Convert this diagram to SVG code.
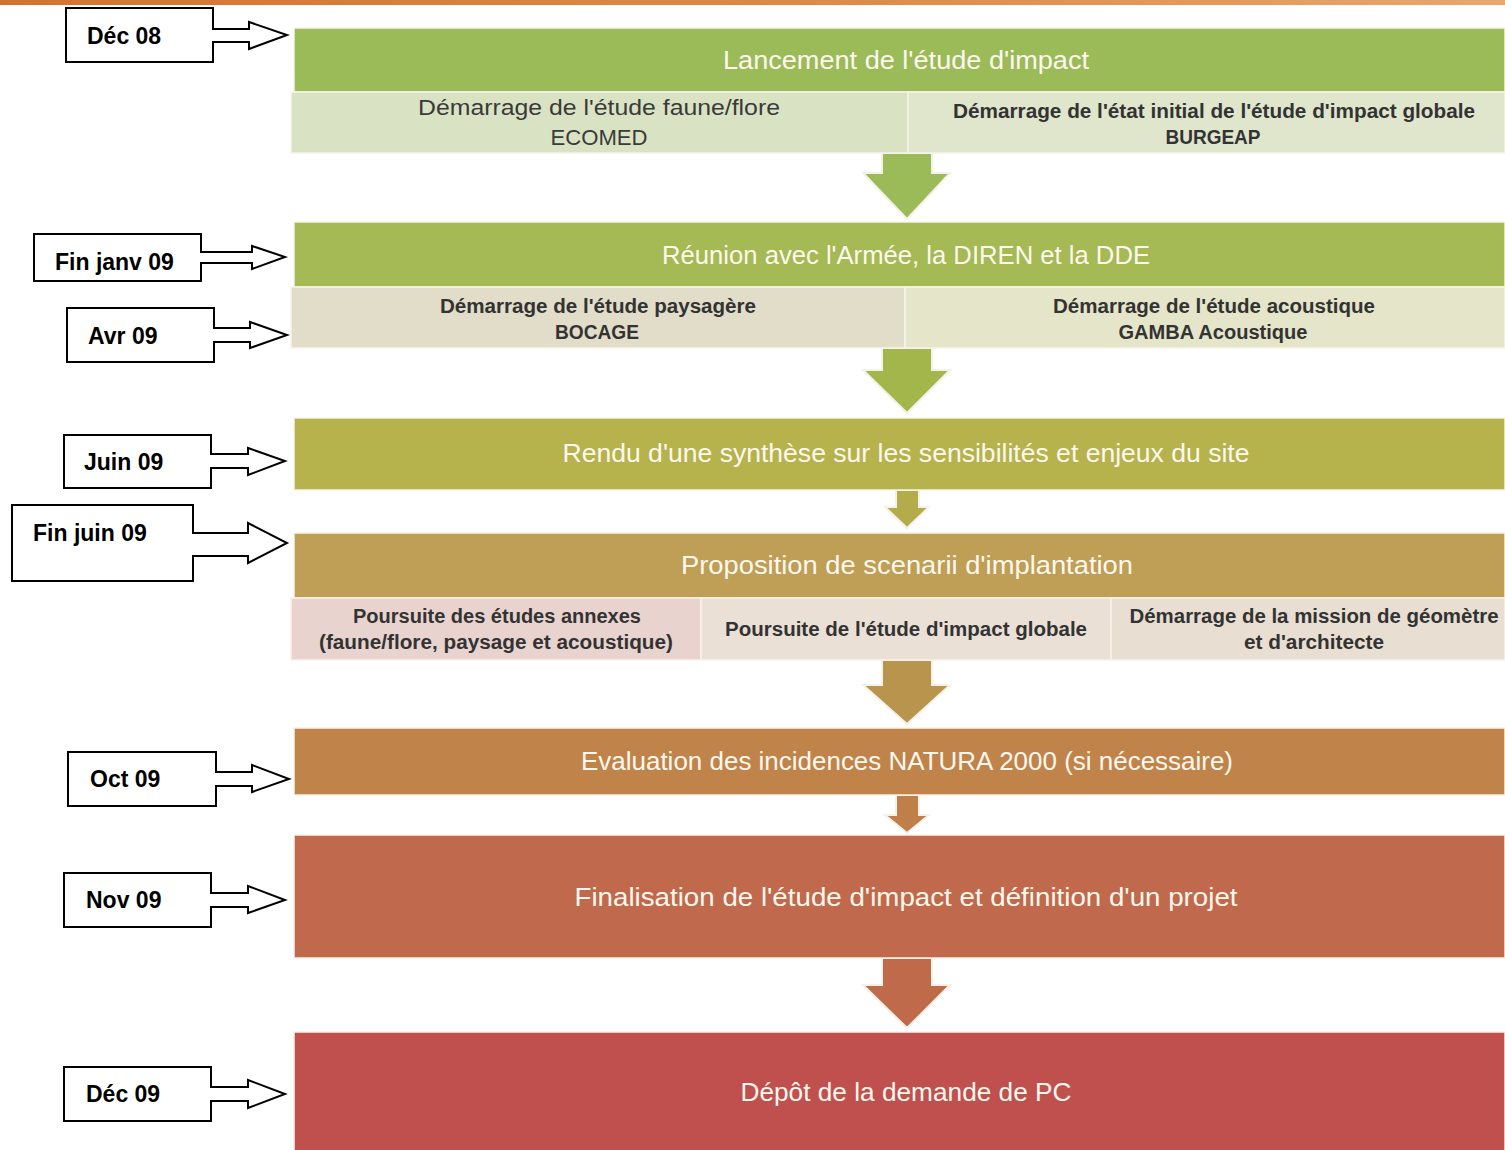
<svg xmlns="http://www.w3.org/2000/svg" width="1505" height="1150" viewBox="0 0 1505 1150">
<defs>
<linearGradient id="topstrip" x1="0" y1="0" x2="1" y2="0">
<stop offset="0" stop-color="#d4732f"/>
<stop offset="0.6" stop-color="#e08c4a"/>
<stop offset="1" stop-color="#eaa66c"/>
</linearGradient>
<style>
.lbl{font-family:"Liberation Sans",Arial,sans-serif;font-weight:bold;font-size:23px;fill:#000}
.call{fill:#fff;stroke:#000;stroke-width:2}
.bt{font-family:"Liberation Sans",Arial,sans-serif;font-size:25px;fill:#fdf8ee;text-anchor:middle}
.st{font-family:"Liberation Sans",Arial,sans-serif;font-size:22px;fill:#3a3a3a;text-anchor:middle}
.stb{font-family:"Liberation Sans",Arial,sans-serif;font-size:20px;font-weight:bold;fill:#333;text-anchor:middle}
.edge{stroke:#f6f3ea;stroke-width:1.5}
.arr{stroke:#f4f1e6;stroke-width:2}
</style>
</defs>
<rect x="0" y="0" width="1505" height="5" fill="url(#topstrip)"/>

<g id="connectors">
<path class="arr" fill="#9bbb59" d="M882 153 H932 V173 H950 L907 219 L863 173 H882 Z"/>
<path class="arr" fill="#a3b64c" d="M882 348 H932 V370 H950 L907 413 L863 370 H882 Z"/>
<path class="arr" fill="#b4ab4b" d="M896 490 H919 V507 H929 L907 528 L885 507 H896 Z"/>
<path class="arr" fill="#b8944c" d="M882 660 H932 V685 H950 L907 724 L863 685 H882 Z"/>
<path class="arr" fill="#c07e49" d="M896 795 H919 V815 H929 L907 833 L885 815 H896 Z"/>
<path class="arr" fill="#bf6a4b" d="M882 958 H932 V985 H950 L907 1028 L863 985 H882 Z"/>
</g>

<g id="step1">
<rect class="edge" x="294" y="28" width="1211" height="64" fill="#9bbb59"/>
<text class="bt" x="906" y="69" textLength="366" lengthAdjust="spacingAndGlyphs">Lancement de l'étude d'impact</text>
<rect class="edge" x="291" y="92" width="617" height="61" fill="#d9e3c3"/>
<rect class="edge" x="908" y="92" width="597" height="61" fill="#dfe6cc"/>
<text class="st" x="599" y="115" textLength="362" lengthAdjust="spacingAndGlyphs">Démarrage de l'étude faune/flore</text>
<text class="st" x="599" y="145" textLength="97" lengthAdjust="spacingAndGlyphs">ECOMED</text>
<text class="stb" x="1214" y="118" textLength="522" lengthAdjust="spacingAndGlyphs">Démarrage de l'état initial  de l'étude d'impact globale</text>
<text class="stb" x="1213" y="144" textLength="95" lengthAdjust="spacingAndGlyphs">BURGEAP</text>
</g>

<g id="step2">
<rect class="edge" x="294" y="222" width="1211" height="65" fill="#a5b954"/>
<text class="bt" x="906" y="264" textLength="488" lengthAdjust="spacingAndGlyphs">Réunion avec l'Armée,  la DIREN et la DDE</text>
<rect class="edge" x="291" y="287" width="614" height="61" fill="#e1ddc9"/>
<rect class="edge" x="905" y="287" width="600" height="61" fill="#e4e5c9"/>
<text class="stb" x="598" y="313" textLength="316" lengthAdjust="spacingAndGlyphs">Démarrage de l'étude paysagère</text>
<text class="stb" x="597" y="339" textLength="84" lengthAdjust="spacingAndGlyphs">BOCAGE</text>
<text class="stb" x="1214" y="313" textLength="322" lengthAdjust="spacingAndGlyphs">Démarrage de l'étude acoustique</text>
<text class="stb" x="1213" y="339" textLength="189" lengthAdjust="spacingAndGlyphs">GAMBA Acoustique</text>
</g>

<g id="step3">
<rect class="edge" x="294" y="418" width="1211" height="72" fill="#b6b24c"/>
<text class="bt" x="906" y="462" textLength="687" lengthAdjust="spacingAndGlyphs">Rendu d'une synthèse sur les sensibilités et enjeux du site</text>
</g>

<g id="step4">
<rect class="edge" x="294" y="533" width="1211" height="65" fill="#bf9e55"/>
<text class="bt" x="907" y="574" textLength="452" lengthAdjust="spacingAndGlyphs">Proposition de scenarii d'implantation</text>
<rect class="edge" x="291" y="598" width="410" height="62" fill="#e9d3ce"/>
<rect class="edge" x="701" y="598" width="410" height="62" fill="#eae0d6"/>
<rect class="edge" x="1111" y="598" width="394" height="62" fill="#e8dfd2"/>
<text class="stb" x="497" y="623" textLength="288" lengthAdjust="spacingAndGlyphs">Poursuite des études annexes</text>
<text class="stb" x="496" y="649" textLength="354" lengthAdjust="spacingAndGlyphs">(faune/flore, paysage et acoustique)</text>
<text class="stb" x="906" y="636" textLength="362" lengthAdjust="spacingAndGlyphs">Poursuite de l'étude d'impact globale</text>
<text class="stb" x="1314" y="623" textLength="369" lengthAdjust="spacingAndGlyphs">Démarrage de la mission de géomètre</text>
<text class="stb" x="1314" y="649" textLength="140" lengthAdjust="spacingAndGlyphs">et d'architecte</text>
</g>

<g id="step5">
<rect class="edge" x="294" y="728" width="1211" height="67" fill="#c0834a"/>
<text class="bt" x="907" y="770" textLength="652" lengthAdjust="spacingAndGlyphs">Evaluation des incidences NATURA 2000 (si nécessaire)</text>
</g>

<g id="step6">
<rect class="edge" x="294" y="835" width="1211" height="123" fill="#c0694c"/>
<text class="bt" x="906" y="906" textLength="663" lengthAdjust="spacingAndGlyphs">Finalisation de l'étude d'impact et définition d'un projet</text>
</g>

<g id="step7">
<rect class="edge" x="294" y="1032" width="1211" height="120" fill="#c0504d"/>
<text class="bt" x="906" y="1101" textLength="331" lengthAdjust="spacingAndGlyphs">Dépôt de la demande de PC</text>
</g>

<g id="date-dec08">
<path class="call" d="M66 8 H213 V29 H249 V22 L287 35 L249 49 V42 H213 V62 H66 Z"/>
<text class="lbl" x="87" y="44">Déc 08</text>
</g>
<g id="date-finjanv09">
<path class="call" d="M34 234 H201 V252 H252 V246 L285 257 L252 269 V263 H201 V281 H34 Z"/>
<text class="lbl" x="55" y="270">Fin janv 09</text>
</g>
<g id="date-avr09">
<path class="call" d="M67 308 H214 V328 H250 V322 L287 335 L250 348 V342 H214 V362 H67 Z"/>
<text class="lbl" x="88" y="344">Avr 09</text>
</g>
<g id="date-juin09">
<path class="call" d="M64 435 H211 V454 H248 V448 L285 461 L248 475 V468 H211 V488 H64 Z"/>
<text class="lbl" x="84" y="470">Juin 09</text>
</g>
<g id="date-finjuin09">
<path class="call" d="M12 505 H193 V533 H248 V523 L287 543 L248 563 V556 H193 V581 H12 Z"/>
<text class="lbl" x="33" y="541">Fin juin 09</text>
</g>
<g id="date-oct09">
<path class="call" d="M68 752 H216 V772 H252 V765 L289 779 L252 792 V786 H216 V806 H68 Z"/>
<text class="lbl" x="90" y="787">Oct 09</text>
</g>
<g id="date-nov09">
<path class="call" d="M64 873 H211 V893 H248 V886 L285 900 L248 913 V907 H211 V927 H64 Z"/>
<text class="lbl" x="86" y="908">Nov 09</text>
</g>
<g id="date-dec09">
<path class="call" d="M64 1067 H211 V1087 H248 V1080 L285 1094 L248 1108 V1101 H211 V1121 H64 Z"/>
<text class="lbl" x="86" y="1102">Déc 09</text>
</g>
</svg>
